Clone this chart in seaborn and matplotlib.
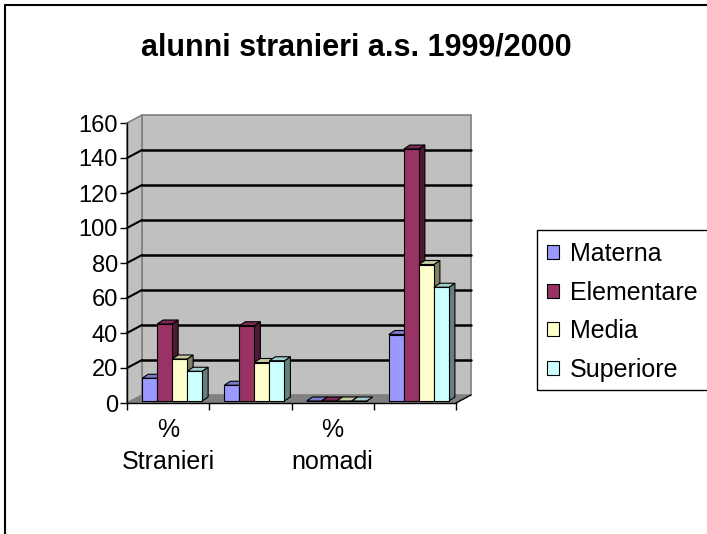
import numpy as np
import pandas as pd
import matplotlib
matplotlib.use("Agg")
import matplotlib.pyplot as plt
import seaborn as sns
from matplotlib.patches import Polygon, Rectangle
from matplotlib.lines import Line2D
from matplotlib.colors import to_rgb

# ---- data ----
categories = ["% Stranieri", "Stranieri", "% nomadi", "nomadi"]
tick_labels = ["%\nStranieri", "", "%\nnomadi", ""]
series = ["Materna", "Elementare", "Media", "Superiore"]
materna = [13, 9, 0, 38]
elementare = [44, 43, 0, 144]
media = [24, 22, 0, 78]
superiore = [17, 23, 0, 65]
colors = ["#9999FF", "#993366", "#FFFFCC", "#CCFFFF"]
yticks = [0, 20, 40, 60, 80, 100, 120, 140, 160]
title = "alunni stranieri a.s. 1999/2000"

rows = []
for s, vals in zip(series, [materna, elementare, media, superiore]):
    for c, v in zip(categories, vals):
        rows.append({"cat": c, "serie": s, "val": v})
df = pd.DataFrame(rows)

sns.set_theme(style="white")
plt.rcParams["font.family"] = ["Liberation Sans", "DejaVu Sans"]
plt.rcParams["text.color"] = "black"

W, H = 707, 534
fig = plt.figure(figsize=(W / 100, H / 100), dpi=100)
fig.patch.set_facecolor("white")

# front frame of the pseudo-3D plot
ax = fig.add_axes([127 / W, 1 - 403 / H, 329 / W, 280 / H])
ax.patch.set_visible(False)

sns.barplot(data=df, x="cat", y="val", hue="serie", order=categories,
            hue_order=series, palette=colors, saturation=1, width=0.73,
            gap=0, edgecolor="black", linewidth=0.8, legend=False, ax=ax,
            err_kws={"linewidth": 0})
bars = sorted(list(ax.patches), key=lambda p: p.get_x())

ax.set_xlim(-0.5, 3.5)
ax.set_ylim(0, 160)

ux = 4 / 329.0   # data units per pixel (x)
uy = 160 / 280.0  # data units per pixel (y)
Dx, Dy = 15 * ux, 8 * uy  # wall depth

# walls / floor
ax.add_patch(Rectangle((-0.5 + Dx, Dy), 4, 160, fc="#C0C0C0", ec="#808080",
                       lw=1.2, zorder=0.5, clip_on=False))
ax.add_patch(Polygon([(-0.5, 0), (-0.5 + Dx, Dy), (-0.5 + Dx, 160 + Dy), (-0.5, 160)],
                     closed=True, fc="#C0C0C0", ec="#808080", lw=1.2, zorder=0.55,
                     clip_on=False))
ax.add_patch(Polygon([(-0.5, 0), (3.5, 0), (3.5 + Dx, Dy), (-0.5 + Dx, Dy)],
                     closed=True, fc="#808080", ec="none", zorder=0.6, clip_on=False))
ax.add_line(Line2D([3.5, 3.5 + Dx], [0, Dy], color="black", lw=1, zorder=0.65,
                   clip_on=False))

# gridlines on back wall and left wall
for v in yticks[1:-1]:
    ax.add_line(Line2D([-0.5 + Dx, 3.5 + Dx], [v + Dy, v + Dy], color="black",
                       lw=1.8, zorder=0.7, clip_on=False))
    ax.add_line(Line2D([-0.5, -0.5 + Dx], [v, v + Dy], color="black",
                       lw=1.5, zorder=0.7, clip_on=False))

# bars with depth faces
sx, sy = 4 * ux, 2 * uy
bx, by = 6 * ux, 4 * uy
for i, p in enumerate(bars):
    x0 = p.get_x() + sx
    w = p.get_width()
    h = p.get_height()
    p.set_x(x0)
    p.set_y(sy)
    y0 = sy
    fc = np.array(to_rgb(p.get_facecolor()))
    z = 3 + i * 0.01
    p.set_zorder(z + 0.005)
    side = Polygon([(x0 + w, y0), (x0 + w + bx, y0 + by), (x0 + w + bx, y0 + h + by),
                    (x0 + w, y0 + h)], closed=True, fc=fc * 0.5, ec="black",
                   lw=0.8, zorder=z, clip_on=False)
    top = Polygon([(x0, y0 + h), (x0 + bx, y0 + h + by), (x0 + w + bx, y0 + h + by),
                   (x0 + w, y0 + h)], closed=True, fc=fc * 0.8, ec="black",
                  lw=0.8, zorder=z, clip_on=False)
    ax.add_patch(side)
    ax.add_patch(top)

# axes lines and ticks
for s in ["top", "right"]:
    ax.spines[s].set_visible(False)
for s in ["left", "bottom"]:
    ax.spines[s].set_visible(True)
    ax.spines[s].set_color("black")
    ax.spines[s].set_linewidth(1)
ax.set_yticks(yticks)
ax.set_yticklabels([str(v) for v in yticks])
ax.set_xticks(range(len(categories)))
ax.set_xticklabels(tick_labels)
ax.set_xticks([-0.5, 0.5, 1.5, 2.5, 3.5], minor=True)
ax.yaxis.set_ticks_position("left")
ax.xaxis.set_ticks_position("bottom")
ax.tick_params(axis="y", which="major", length=5, width=1, color="black",
               direction="out", labelsize=17, pad=1.5, labelcolor="black")
ax.tick_params(axis="x", which="major", length=0, labelsize=18, pad=11,
               labelcolor="black")
ax.tick_params(axis="x", which="minor", length=5, width=1, color="black",
               direction="out")
for lbl in ax.get_xticklabels():
    lbl.set_linespacing(1.4)
ax.set_xlabel("")
ax.set_ylabel("")

# title
fig.text(356 / W, 1 - 47 / H, title, ha="center", va="center", fontsize=22,
         fontweight="bold", color="black")

# legend
handles = [Rectangle((0, 0), 1, 1, fc=c, ec="black", lw=0.8) for c in colors]
fig.legend(handles, series, loc="upper left", bbox_to_anchor=(547 / W, 1 - 242 / H),
           frameon=False, fontsize=18, handlelength=0.48, handleheight=0.48,
           handletextpad=0.45, labelspacing=0.58, borderaxespad=0, borderpad=0,
           labelcolor="black")
fig.add_artist(Rectangle((537 / W, 1 - 390 / H), (730 - 537) / W, 160 / H,
                         transform=fig.transFigure, fill=False, ec="black", lw=1,
                         clip_on=False))

# chart border (left and top visible)
fig.add_artist(Line2D([5 / W, 5 / W], [-0.1, 1 - 5 / H], transform=fig.transFigure,
                      color="black", lw=1.5))
fig.add_artist(Line2D([5 / W, 1.1], [1 - 5 / H, 1 - 5 / H], transform=fig.transFigure,
                      color="black", lw=1.5))

fig.savefig("out.png", dpi=100)
